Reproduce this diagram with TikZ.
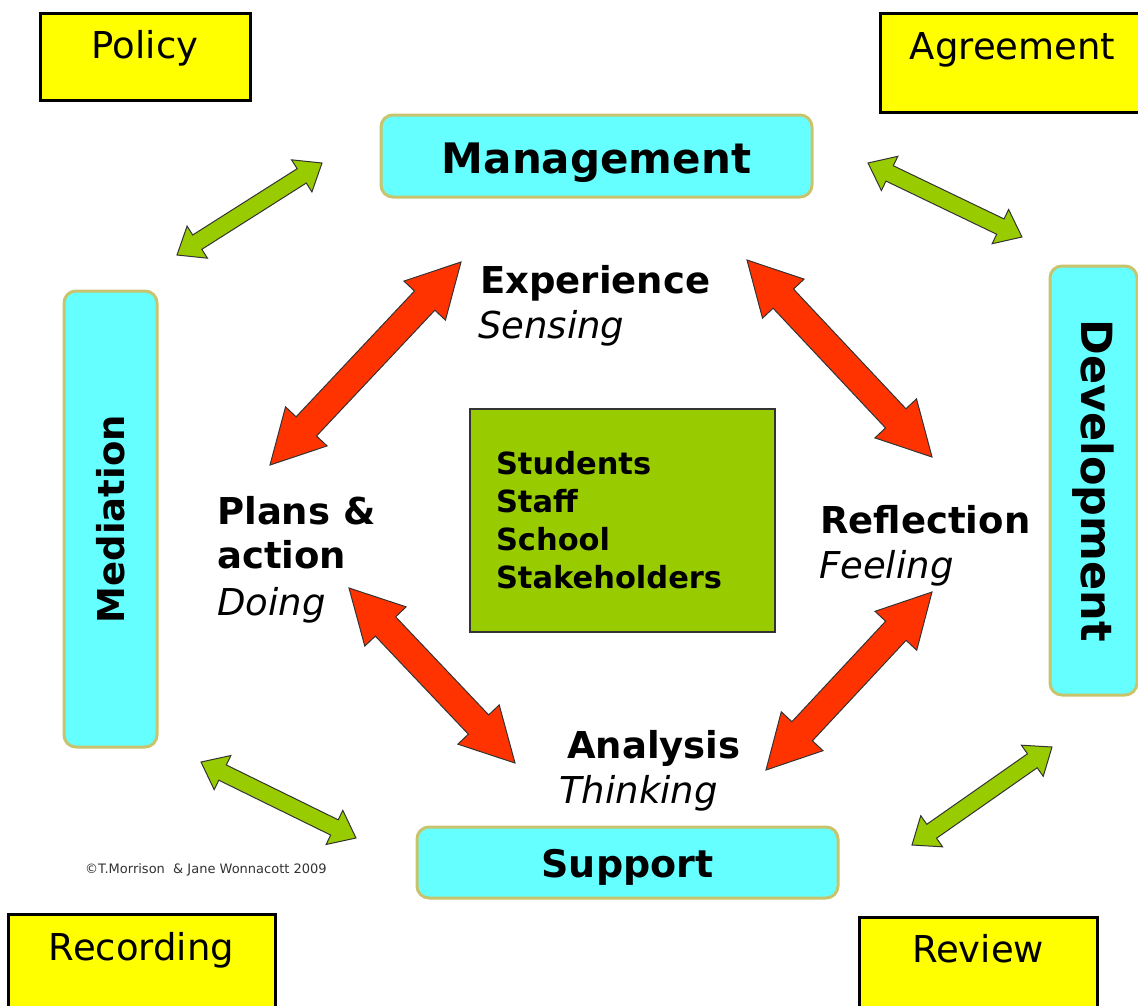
\documentclass[tikz,border=0pt]{standalone}
\usepackage{fontspec}
\setmainfont{DejaVu Sans}
\usetikzlibrary{calc}

\definecolor{tagyellow}{HTML}{FFFF00}
\definecolor{pillcyan}{HTML}{66FFFF}
\definecolor{pillrim}{RGB}{200,196,110}
\definecolor{leafgreen}{HTML}{99CC00}
\definecolor{cyclered}{HTML}{FF3300}
\definecolor{outline}{HTML}{333333}

% Block double arrow between two tips:
% #1,#2 tips, #3 head length, #4 half head width, #5 half shaft width, #6 style
\newcommand\dblarrow[6]{%
  \draw[#6] (#1)
    -- ($(#1)!#3!(#2)!#4!90:(#2)$)
    -- ($(#1)!#3!(#2)!#5!90:(#2)$)
    -- ($(#2)!#3!(#1)!#5!-90:(#1)$)
    -- ($(#2)!#3!(#1)!#4!-90:(#1)$)
    -- (#2)
    -- ($(#2)!#3!(#1)!#4!90:(#1)$)
    -- ($(#2)!#3!(#1)!#5!90:(#1)$)
    -- ($(#1)!#3!(#2)!#5!-90:(#2)$)
    -- ($(#1)!#3!(#2)!#4!-90:(#2)$)
    -- cycle;}

\begin{document}
\begin{tikzpicture}[x=1pt,y=-1pt,
  tagbox/.style={draw=black, line width=3pt, fill=tagyellow, inner sep=0pt,
    text height=27pt, font=\fontsize{37}{44}\selectfont},
  pillbox/.style={draw=pillrim, line width=3pt, fill=pillcyan, rounded corners=12pt,
    inner sep=0pt, font=\bfseries},
  word/.style={anchor=base west, inner sep=0pt, font=\bfseries\fontsize{37}{44}\selectfont},
  mood/.style={anchor=base west, inner sep=0pt, font=\itshape\fontsize{37}{44}\selectfont},
  redarrow/.style={fill=cyclered, draw=outline, line width=1pt, line join=miter},
  greenarrow/.style={fill=leafgreen, draw=outline, line width=1pt, line join=miter}]

\useasboundingbox[fill=white] (0,0) rectangle (1138,1005);

% corner tags (Agreement, Recording and Review run past the page edge)
\node[tagbox, minimum width=210, minimum height=87, text depth=24pt] (policy) at (145,56.5) {Policy};
\node[tagbox, minimum width=400, minimum height=99, text depth=34pt] (agreement) at (1080,62.5) {\hspace*{-135pt}Agreement};
\node[tagbox, minimum width=267, minimum height=101, text depth=36pt] (recording) at (141.5,964.5) {Recording};
\node[tagbox, minimum width=238, minimum height=98, text depth=35pt] (review) at (978,966) {Review};

% the four sides
\node[pillbox, minimum width=431, minimum height=82, text height=37pt, text depth=3pt,
  font=\bfseries\fontsize{42}{50}\selectfont] (management) at (596.5,156) {Management};
\node[pillbox, minimum width=421, minimum height=71, text height=32pt, text depth=3pt,
  font=\bfseries\fontsize{38}{46}\selectfont] (support) at (627.5,862.5) {Support};
\node[pillbox, rotate=90, minimum width=456, minimum height=93,
  font=\bfseries\fontsize{37}{44}\selectfont] (mediation) at (110.5,519) {Mediation};
\node[pillbox, rotate=-90, minimum width=429, minimum height=87,
  font=\bfseries\fontsize{43}{50}\selectfont] (development) at (1093.5,480.5) {Development};

% centre
\node[draw=outline, line width=2pt, fill=leafgreen, minimum width=305, minimum height=223,
  inner xsep=26pt, inner ysep=0pt, text width=253pt, align=left,
  font=\bfseries\fontsize{30.5}{38}\selectfont] (people) at (622.5,520.5)
  {Students\\Staff\\School\\Stakeholders};

% cycle stages
\node[word] (experience) at (480,293) {Experience};
\node[mood] (sensing) at (478,338) {Sensing};
\node[word] (reflection) at (820,533) {Reflection};
\node[mood] (feeling) at (819,578) {Feeling};
\node[word] (analysis) at (567,758) {Analysis};
\node[mood] (thinking) at (559,803) {Thinking};
\node[word] (plans) at (217,524) {Plans \&};
\node[word] (action) at (217,568) {action};
\node[mood] (doing) at (217,615) {Doing};

% copyright line
\node[anchor=west, inner sep=0pt, text=outline, font=\fontsize{13}{15}\selectfont] (credit) at (85,870)
  {©T.Morrison\ \ \& Jane Wonnacott 2009};

% arrow ends
\coordinate (r1a) at (461,262); \coordinate (r1b) at (270,465);
\coordinate (r2a) at (747,260); \coordinate (r2b) at (932,457);
\coordinate (r3a) at (349,588); \coordinate (r3b) at (515,763);
\coordinate (r4a) at (932,592); \coordinate (r4b) at (766,770);
\coordinate (g1a) at (322,163); \coordinate (g1b) at (177,255);
\coordinate (g2a) at (868,163); \coordinate (g2b) at (1022,237);
\coordinate (g3a) at (1052,747); \coordinate (g3b) at (912,845);
\coordinate (g4a) at (201,762); \coordinate (g4b) at (356,838);

% inner learning cycle
\dblarrow{r1a}{r1b}{53pt}{28.5pt}{14pt}{redarrow}
\dblarrow{r2a}{r2b}{53pt}{28.5pt}{14pt}{redarrow}
\dblarrow{r3a}{r3b}{53pt}{28.5pt}{14pt}{redarrow}
\dblarrow{r4a}{r4b}{53pt}{28.5pt}{14pt}{redarrow}

% outer links
\dblarrow{g1a}{g1b}{24pt}{19pt}{8.5pt}{greenarrow}
\dblarrow{g2a}{g2b}{24pt}{19pt}{8.5pt}{greenarrow}
\dblarrow{g3a}{g3b}{24pt}{19pt}{8.5pt}{greenarrow}
\dblarrow{g4a}{g4b}{24pt}{19pt}{8.5pt}{greenarrow}
\end{tikzpicture}
\end{document}
